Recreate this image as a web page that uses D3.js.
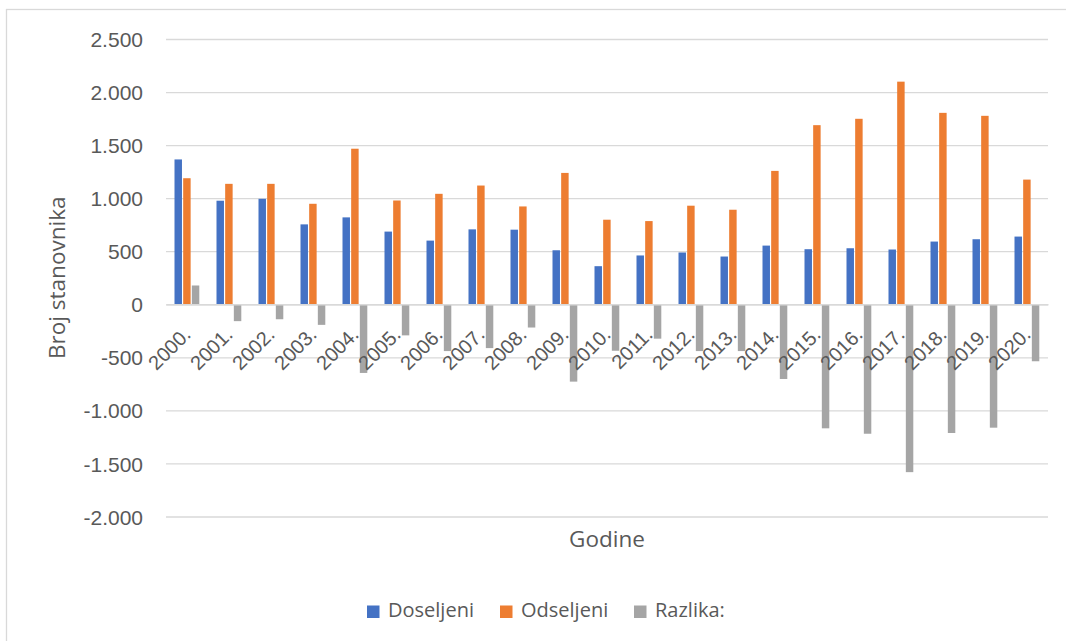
<!DOCTYPE html>
<html>
<head>
<meta charset="utf-8">
<script src="https://cdn.jsdelivr.net/npm/d3@7"></script>
<style>
  html, body { margin: 0; padding: 0; background: #ffffff; }
  svg { display: block; font-family: "Open Sans", "DejaVu Sans", sans-serif; }
</style>
</head>
<body>
<svg id="chart" width="1066" height="641"></svg>
<script>
// Godine (years) on the category axis
const godine = ["2000.", "2001.", "2002.", "2003.", "2004.", "2005.", "2006.", "2007.",
  "2008.", "2009.", "2010.", "2011.", "2012.", "2013.", "2014.", "2015.", "2016.",
  "2017.", "2018.", "2019.", "2020."];

// Number of people who moved in
const doseljeni = [1365, 976, 994, 753, 819, 685, 600, 706, 703, 509, 359, 460, 488,
  450, 553, 519, 528, 516, 591, 613, 638];

// Number of people who moved out
const odseljeni = [1188, 1135, 1135, 947, 1466, 978, 1041, 1119, 922, 1238, 797, 784,
  929, 891, 1257, 1688, 1748, 2098, 1804, 1776, 1175];

// Net difference
const razlika = [177, -159, -141, -194, -647, -293, -441, -413, -219, -729, -438, -324,
  -441, -441, -704, -1169, -1220, -1582, -1213, -1163, -537];

const seriesNames = ["Doseljeni", "Odseljeni", "Razlika:"];
const seriesColors = ["#4472C4", "#ED7D31", "#A5A5A5"];
const yTicks = [-2000, -1500, -1000, -500, 0, 500, 1000, 1500, 2000, 2500];

const rows = godine.map((g, i) => ({
  godina: g,
  values: [doseljeni[i], odseljeni[i], razlika[i]]
}));

const svg = d3.select("#chart");
const textColor = "#595959";
const gridColor = "#D9D9D9";

// Chart frame
svg.append("rect")
  .attr("x", 6.5).attr("y", 9.5)
  .attr("width", 1200).attr("height", 800)
  .attr("fill", "none").attr("stroke", gridColor).attr("stroke-width", 1.3);

const plot = { left: 166, right: 1048, top: 39, bottom: 516.5 };

const x = d3.scaleBand()
  .domain(godine)
  .range([plot.left, plot.right])
  .paddingInner(0).paddingOuter(0);

const inner = d3.scaleBand()
  .domain(d3.range(seriesNames.length))
  .range([0, 26]);

const y = d3.scaleLinear()
  .domain([d3.min(yTicks), d3.max(yTicks)])
  .range([plot.bottom, plot.top]);

const locale = d3.formatLocale({
  decimal: ",", thousands: ".", grouping: [3], currency: ["", " kn"], minus: "-"
});
const fmt = locale.format(",d");

// Horizontal gridlines and value labels
const yAxis = d3.axisLeft(y)
  .tickValues(yTicks)
  .tickFormat(fmt)
  .tickSize(-(plot.right - plot.left))
  .tickPadding(23);

const yG = svg.append("g")
  .attr("transform", `translate(${plot.left},0)`)
  .call(yAxis);
yG.select(".domain").remove();
yG.selectAll(".tick line").attr("stroke", gridColor).attr("stroke-width", 1.3);
yG.selectAll(".tick text")
  .attr("fill", textColor)
  .style("font-size", "21px")
  .attr("dy", "0.36em");

// Bars
const groups = svg.append("g")
  .selectAll("g")
  .data(rows)
  .join("g")
  .attr("transform", d => `translate(${x(d.godina) + (x.bandwidth() - 26) / 2},0)`);

groups.selectAll("rect")
  .data(d => d.values.map((v, k) => ({ v, k })))
  .join("rect")
  .attr("x", d => inner(d.k) + 0.5)
  .attr("width", inner.bandwidth() - 1.2)
  .attr("y", d => y(Math.max(0, d.v)))
  .attr("height", d => Math.abs(y(d.v) - y(0)))
  .attr("fill", d => seriesColors[d.k]);

// Category axis line at zero
const xAxis = d3.axisBottom(x).tickSize(0).tickPadding(0);
const xG = svg.append("g")
  .attr("transform", `translate(0,${y(0)})`)
  .call(xAxis);
xG.select(".domain").attr("stroke", gridColor).attr("stroke-width", 1.6);
xG.selectAll(".tick text")
  .attr("fill", textColor)
  .style("font-size", "20px")
  .attr("text-anchor", "end")
  .attr("dy", null)
  .attr("y", null)
  .attr("transform", function () {
    return `translate(${x.bandwidth() / 2 - 16},31.5) rotate(-45)`;
  });

// Axis titles
svg.append("text")
  .attr("transform", `translate(65,${(plot.top + plot.bottom) / 2}) rotate(-90)`)
  .attr("text-anchor", "middle")
  .attr("fill", textColor)
  .style("font-size", "22.5px")
  .text("Broj stanovnika");

svg.append("text")
  .attr("x", (plot.left + plot.right) / 2)
  .attr("y", 546.7)
  .attr("text-anchor", "middle")
  .attr("fill", textColor)
  .style("font-size", "22.5px")
  .text("Godine");

// Legend
const legendX = [367, 500, 634];
const legend = svg.append("g")
  .selectAll("g")
  .data(seriesNames)
  .join("g")
  .attr("transform", (d, i) => `translate(${legendX[i]},605.5)`);
legend.append("rect")
  .attr("width", 12.5).attr("height", 12.5)
  .attr("fill", (d, i) => seriesColors[i]);
legend.append("text")
  .attr("x", 21).attr("y", 11.2)
  .attr("fill", textColor)
  .style("font-size", "20px")
  .text(d => d);
</script>
</body>
</html>
